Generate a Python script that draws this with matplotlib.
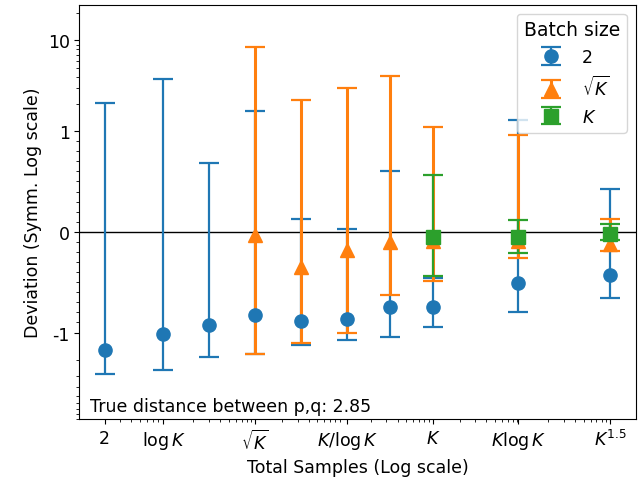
import numpy as np
import matplotlib
matplotlib.use("Agg")
import matplotlib.pyplot as plt

plt.rcParams['font.size'] = 12.5

# Posicoes no eixo x (K = 10000, log natural)
x_vals = [2, 9.21, 30.3, 100, 329.5, 1086, 3295, 10000, 92103, 1000000]
x_tick_vals = [2, 9.21, 100, 1086, 10000, 92103, 1000000]
x_tick_labels = ['2', r'$\log K$', r'$\sqrt{K}$', r'$K/\log K$', r'$K$', r'$K\log K$', r'$K^{1.5}$']

# Batch size 2 (todos os pontos)
mean_2 = [-1.56, -1.025, -0.925, -0.822, -0.886, -0.866, -0.75, -0.744, -0.51, -0.431]
low_2 = [-2.87, -2.60, -1.88, -1.74, -1.36, -1.21, -1.11, -0.941, -0.793, -0.658]
high_2 = [2.03, 3.77, 0.684, 1.66, 0.131, 0.033, 0.60, -0.454, 1.32, 0.427]

# Batch size sqrt(K) (a partir de sqrt(K))
x_sqrt = x_vals[3:]
mean_sqrt = [-0.033, -0.346, -0.185, -0.099, -0.09, -0.09, -0.12]
low_sqrt = [-1.73, -1.30, -1.00, -0.632, -0.487, -0.264, -0.188]
high_sqrt = [8.46, 2.21, 3.02, 4.06, 1.12, 0.96, 0.131]

# Batch size K (a partir de K)
x_k = x_vals[7:]
mean_k = [-0.052, -0.05, -0.017]
low_k = [-0.434, -0.214, -0.079]
high_k = [0.566, 0.118, 0.079]

true_dist = 2.85


def yerr(mean, low, high):
    mean = np.array(mean)
    return [mean - np.array(low), np.array(high) - mean]


fig = plt.figure(figsize=(6.4, 4.89), dpi=100)
ax = fig.add_subplot(111)
fig.subplots_adjust(left=0.124, right=0.993, bottom=0.141, top=0.988)

ax.axhline(0, color='black', linewidth=1)

ax.errorbar(x_vals, mean_2, yerr=yerr(mean_2, low_2, high_2), fmt='o', color='C0',
            markersize=9.5, capsize=7, elinewidth=1.6, capthick=1.6, label='2')
ax.errorbar(x_sqrt, mean_sqrt, yerr=yerr(mean_sqrt, low_sqrt, high_sqrt), fmt='^', color='C1',
            markersize=9.5, capsize=7, elinewidth=2.2, capthick=1.6, label=r'$\sqrt{K}$')
ax.errorbar(x_k, mean_k, yerr=yerr(mean_k, low_k, high_k), fmt='s', color='C2',
            markersize=9.5, capsize=7, elinewidth=1.6, capthick=1.6, label=r'$K$')

ax.set_xscale('log')
ax.set_yscale('symlog', linthresh=1)
ax.set_ylim(-8.4, 24.7)

ax.set_xticks(x_tick_vals)
ax.set_xticklabels(x_tick_labels)

ax.set_yticks([-1, 0, 1, 10])
ax.set_yticklabels(['-1', '0', '1', '10'])
# ticks menores: lineares entre -1 e 1, logaritmicos fora
subs = np.arange(2, 10)
minor = list(-subs) + list(np.arange(-0.9, 0, 0.1)) + list(np.arange(0.1, 1, 0.1)) + list(subs) + [20]
ax.set_yticks(minor, minor=True)

ax.set_xlabel('Total Samples (Log scale)')
ax.set_ylabel('Deviation (Symm. Log scale)')

ax.text(0.02, 0.02, f'True distance between p,q: {true_dist}', transform=ax.transAxes)

ax.legend(title='Batch size', loc='upper right', title_fontsize=13.5)

fig.savefig('out.png', dpi=100)
